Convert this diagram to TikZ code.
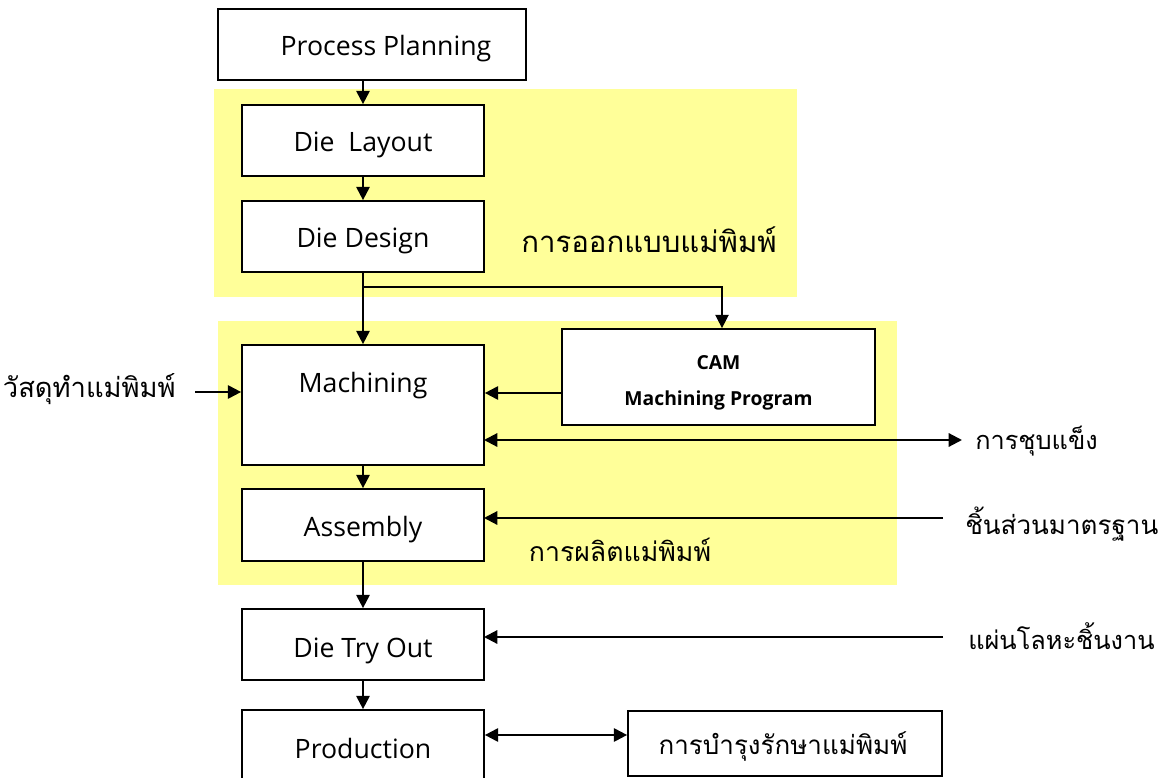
\documentclass[tikz,border=0pt]{standalone}
\usepackage{fontspec}
\setmainfont{Open Sans}
\newfontfamily\thai[Script=Thai]{Loma}
\usetikzlibrary{arrows.meta}
\definecolor{hl}{HTML}{FFFF99}
\tikzset{
  box/.style={draw, line width=1.3pt, fill=white, inner sep=0pt},
  conn/.style={line width=1.6pt, -{Triangle[length=10pt,width=10pt]}},
  dconn/.style={line width=1.6pt, {Triangle[length=10pt,width=10pt]}-{Triangle[length=10pt,width=10pt]}},
  lbl/.style={inner sep=0pt, font=\fontsize{20}{24}\selectfont},
  tlbl/.style={inner sep=0pt, font=\thai\fontsize{20}{24}\selectfont},
}
\begin{document}
\begin{tikzpicture}[x=0.75pt,y=-0.75pt]
\clip (0,0) rectangle (1165,778);
\fill[white] (0,0) rectangle (1165,778);
% yellow regions
\fill[hl] (214,89) rectangle (797,297);
\fill[hl] (218,321) rectangle (897,585);
% boxes
\node[box, minimum width=231pt, minimum height=53.25pt] (pp) at (372,44.5) {};
\node[lbl] (pptxt) at (386,49) {Process Planning};
\node[box, minimum width=181.5pt, minimum height=53.25pt] (dl) at (363,140.5) {};
\node[lbl] (dltxt) at (363,145) {Die\ \ Layout};
\node[box, minimum width=181.5pt, minimum height=53.25pt] (dd) at (363,236.5) {};
\node[lbl] (ddtxt) at (363,241) {Die Design};
\node[box, minimum width=181.5pt, minimum height=90pt] (mach) at (363,405) {};
\node[lbl] (machtxt) at (363,386) {Machining};
\node[box, minimum width=234.75pt, minimum height=72pt] (cam) at (718.5,377) {};
\node[inner sep=0pt, align=center, font=\fontsize{14.5}{27}\selectfont\bfseries] (camtxt) at (718.5,383) {CAM\\Machining Program};
\node[box, minimum width=181.5pt, minimum height=54pt] (asm) at (363,525) {};
\node[lbl] (asmtxt) at (363,530) {Assembly};
\node[box, minimum width=181.5pt, minimum height=53.25pt] (dto) at (363,644.5) {};
\node[lbl] (dtotxt) at (363,651) {Die Try Out};
\node[box, minimum width=181.5pt, minimum height=60pt] (prod) at (363,750) {};
\node[lbl] (prodtxt) at (363,748) {Production};
\node[box, minimum width=235.5pt, minimum height=48.75pt] (maint) at (785,743.5) {};
\node[tlbl, font=\thai\fontsize{19.5}{24}\selectfont] (mainttxt) at (783,746) {การบำรุงรักษาแม่พิมพ์};
% labels
\node[tlbl, font=\thai\fontsize{22}{24}\selectfont] (design) at (649,240) {การออกแบบแม่พิมพ์};
\node[tlbl] (manuf) at (620,550) {การผลิตแม่พิมพ์};
\node[tlbl, anchor=west, font=\thai\fontsize{19}{24}\selectfont] (harden) at (975,441) {การชุบแข็ง};
\node[tlbl, anchor=west, font=\thai\fontsize{19.5}{24}\selectfont] (std) at (965,524) {ชิ้นส่วนมาตรฐาน};
\node[tlbl, anchor=west, font=\thai\fontsize{19}{24}\selectfont] (sheet) at (968,636) {แผ่นโลหะชิ้นงาน};
\node[tlbl, anchor=east, font=\thai\fontsize{20.5}{24}\selectfont] (mat) at (176,389) {วัสดุทำแม่พิมพ์};
% coordinates
\coordinate (ppout) at (363,80);
\coordinate (split) at (363,287);
\coordinate (camturn) at (722,287);
\coordinate (matout) at (195,392);
\coordinate (machR) at (484,440);
\coordinate (hardenin) at (962,440);
\coordinate (stdout) at (943,518);
\coordinate (asmR) at (484,518);
\coordinate (sheetout) at (943,637);
\coordinate (dtoR) at (484,637);
% connectors
\draw[conn] (ppout) -- (dl.north);
\draw[conn] (dl.south) -- (dd.north);
\draw[conn] (dd.south) -- (mach.north);
\draw[conn, line width=1.1pt] (split) -- (camturn) -- (camturn |- cam.north);
\draw[conn] (cam.west |- 0,393) -- (mach.east |- 0,393);
\draw[conn] (matout) -- (mach.west |- matout);
\draw[dconn] (machR) -- (hardenin);
\draw[conn] (mach.south) -- (asm.north);
\draw[conn] (stdout) -- (asmR);
\draw[conn] (asm.south) -- (dto.north);
\draw[conn] (sheetout) -- (dtoR);
\draw[conn] (dto.south) -- (prod.north);
\draw[dconn] (prod.east |- 0,735) -- (maint.west |- 0,735);
\end{tikzpicture}
\end{document}
